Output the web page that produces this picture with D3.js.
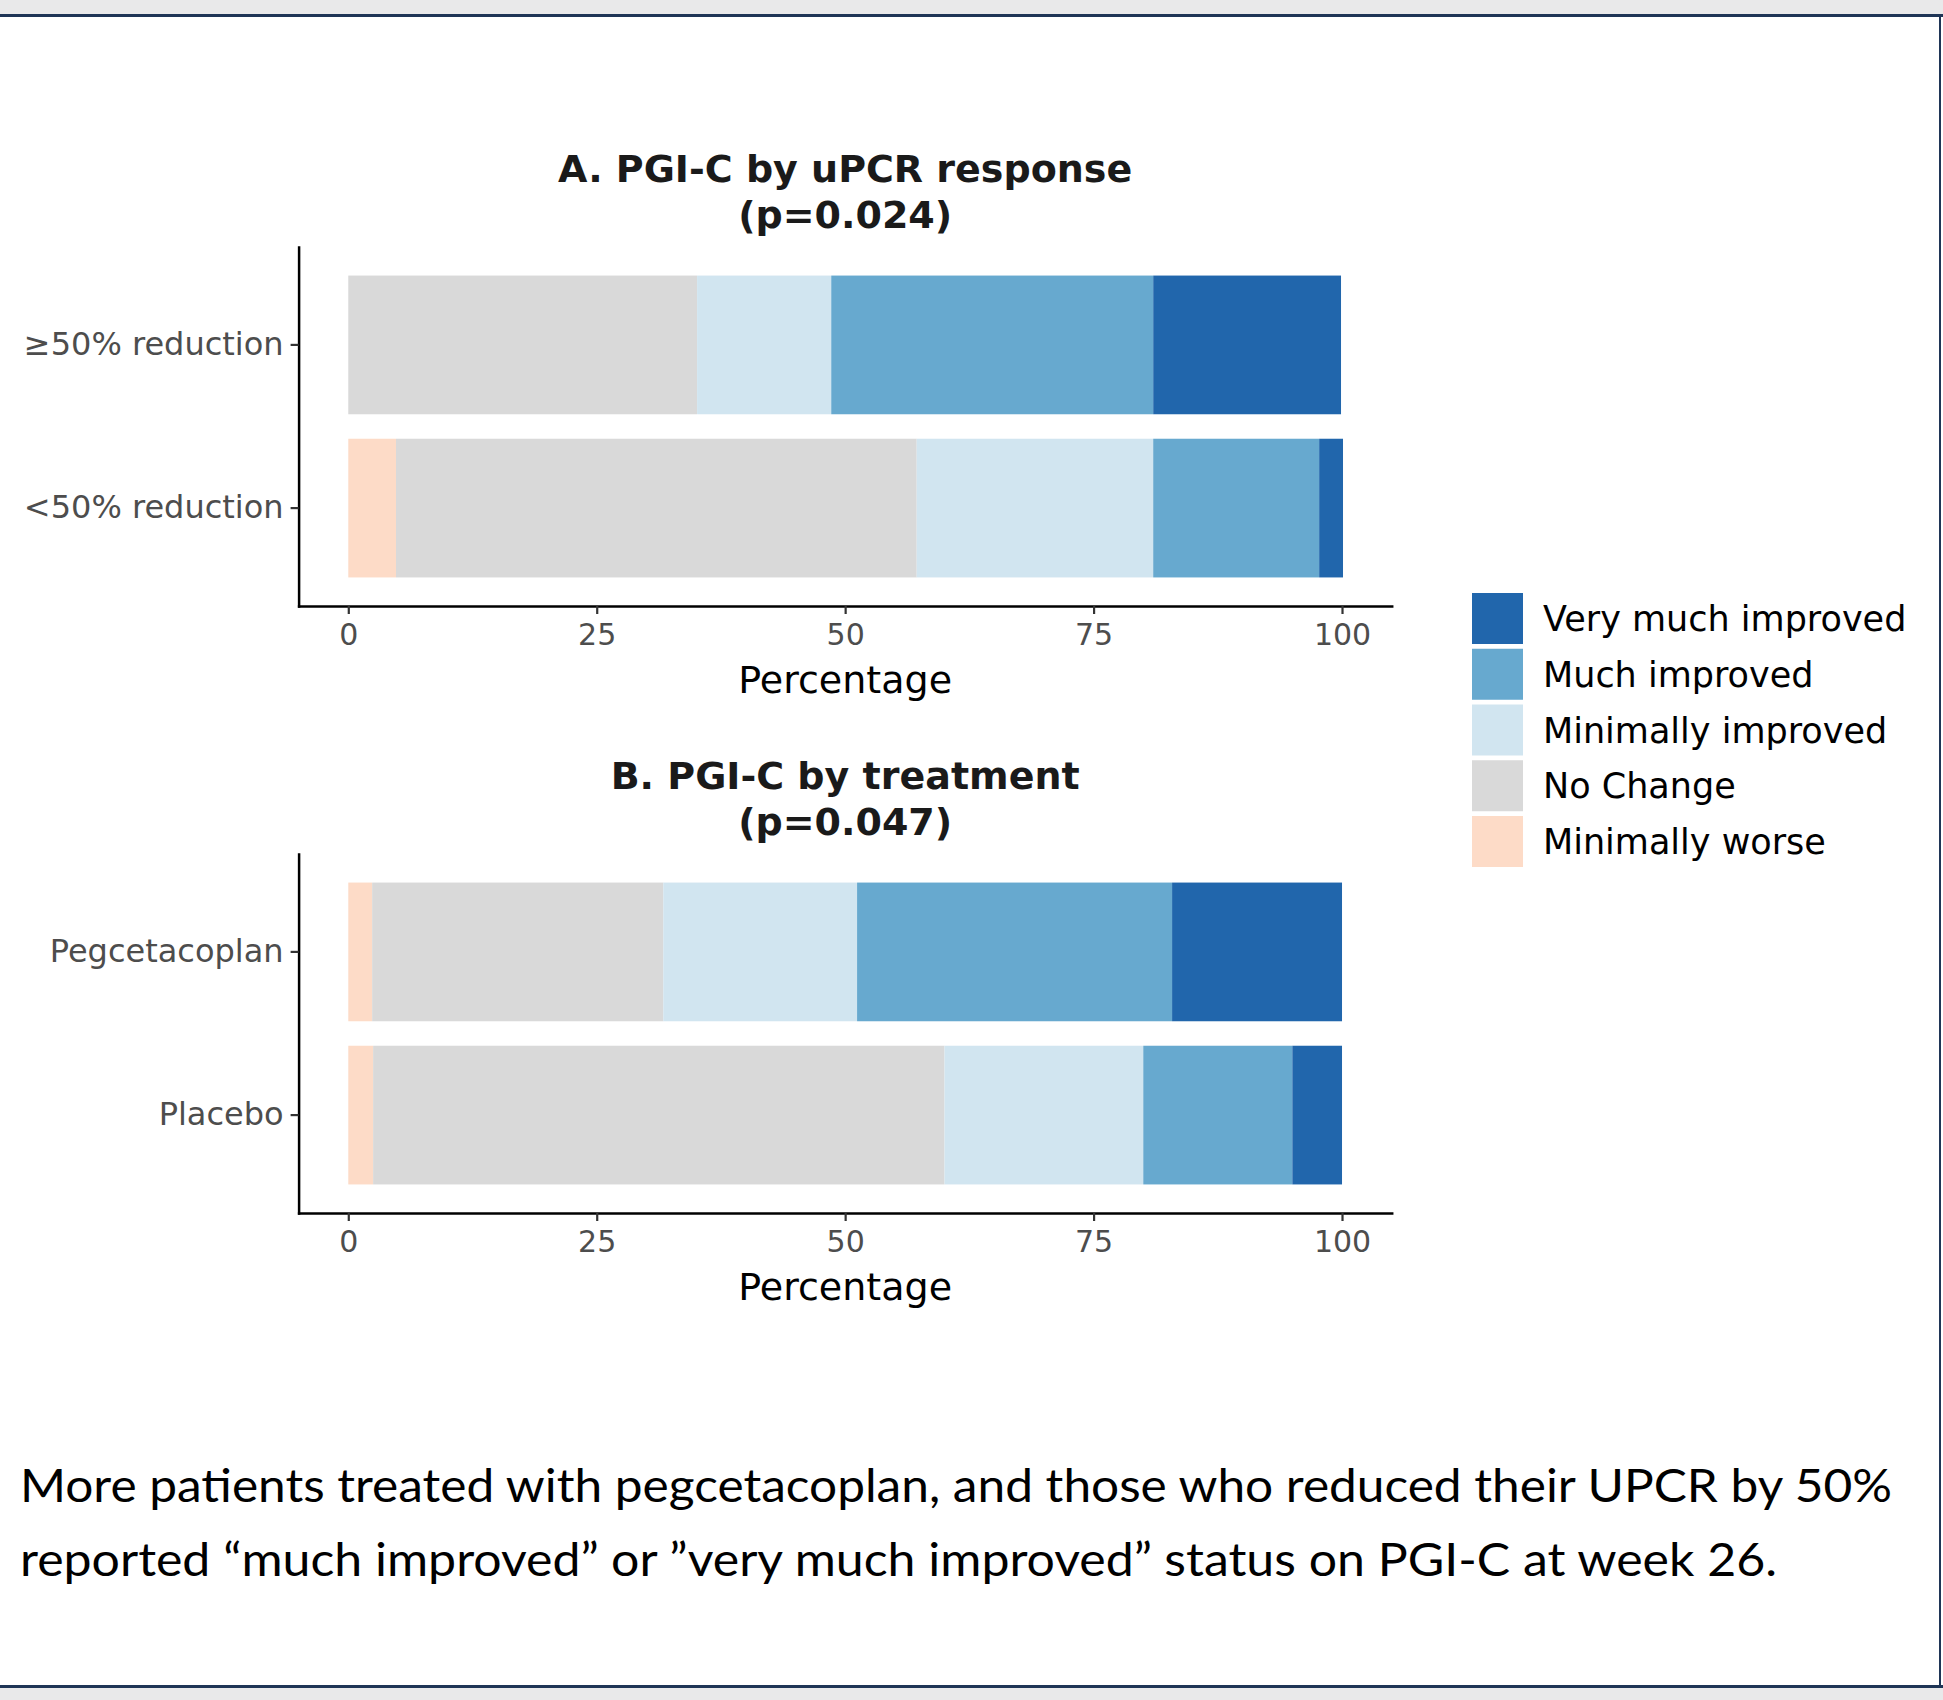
<!doctype html>
<meta charset="utf-8">
<title>PGI-C stacked bars</title>
<script src="https://cdn.jsdelivr.net/npm/d3@7"></script>
<style>
body { margin: 0; background: #fff; }
svg { font-family: "DejaVu Sans", sans-serif; }
.tick text { fill: #4d4d4d; }
</style>
<body>
<svg id="chart" width="1943" height="1700"></svg>
<script>
// response categories, stacked left to right
var categories = ["Minimally worse", "No Change", "Minimally improved", "Much improved", "Very much improved"];
var colors = ["#fddbc7", "#d9d9d9", "#d1e5f0", "#67a9cf", "#2166ac"];

// panel A: by uPCR response (percent of patients)
var groupsA = ["≥50% reduction", "<50% reduction"];
var reduced50 = [0, 35.1, 13.5, 32.4, 18.9];
var notReduced50 = [4.8, 52.4, 23.8, 16.7, 2.4];

// panel B: by treatment
var groupsB = ["Pegcetacoplan", "Placebo"];
var pegcetacoplan = [2.4, 29.3, 19.5, 31.7, 17.1];
var placebo = [2.5, 57.5, 20.0, 15.0, 5.0];

var xTicks = [0, 25, 50, 75, 100];
var titlesA = ["A. PGI-C by uPCR response", "(p=0.024)"];
var titlesB = ["B. PGI-C by treatment", "(p=0.047)"];
var caption = [
  "More patients treated with pegcetacoplan, and those who reduced their UPCR by 50%",
  "reported \u201cmuch improved\u201d or \u201dvery much improved\u201d status on PGI-C at week 26."
];

var svg = d3.select("#chart");

// page frame
svg.append("rect").attr("x", 0).attr("y", 0).attr("width", 1943).attr("height", 14).attr("fill", "#e9e9ea");
svg.append("rect").attr("x", 0).attr("y", 1688).attr("width", 1943).attr("height", 12).attr("fill", "#e9e9ea");
svg.append("rect").attr("x", 0).attr("y", 14).attr("width", 1943).attr("height", 3).attr("fill", "#1f3556");
svg.append("rect").attr("x", 0).attr("y", 1685).attr("width", 1943).attr("height", 3).attr("fill", "#1f3556");
svg.append("rect").attr("x", 1939).attr("y", 14).attr("width", 2).attr("height", 1674).attr("fill", "#1f3556");

var x = d3.scaleLinear().domain([-5, 105]).range([298.6, 1391.7]);

function panel(top, bottom, groups, rows, titles) {
  var g = svg.append("g");
  var y = d3.scaleBand().domain(groups).range([top, bottom])
    .paddingInner(0.15).paddingOuter(0.175);

  rows.forEach(function(vals, i) {
    var cum = d3.cumsum(vals);
    var segs = vals.map(function(v, j) {
      return {start: cum[j] - v, end: cum[j], color: colors[j]};
    });
    g.selectAll(null).data(segs).enter().append("rect")
      .attr("x", function(d) { return x(d.start); })
      .attr("width", function(d) { return Math.max(0, x(d.end) - x(d.start)); })
      .attr("y", y(groups[i]))
      .attr("height", y.bandwidth())
      .attr("fill", function(d) { return d.color; });
  });

  var xa = g.append("g").attr("transform", "translate(0," + bottom + ")")
    .call(d3.axisBottom(x).tickValues(xTicks).tickSize(8).tickSizeOuter(0).tickPadding(10));
  xa.selectAll(".tick text").attr("font-size", 30).attr("font-family", "DejaVu Sans");

  var ya = g.append("g").attr("transform", "translate(" + x.range()[0] + ",0)")
    .call(d3.axisLeft(y).tickSize(8).tickSizeOuter(0).tickPadding(7));
  ya.selectAll(".tick text").attr("font-size", 32).attr("font-family", "DejaVu Sans");

  [xa, ya].forEach(function(a) {
    a.select(".domain").attr("stroke", "#000").attr("stroke-width", 2.5).attr("stroke-linecap", "square");
    a.selectAll(".tick line").attr("stroke", "#333").attr("stroke-width", 2.2);
  });

  var cx = (x.range()[0] + x.range()[1]) / 2;
  g.append("text").attr("x", cx).attr("y", bottom + 87)
    .attr("text-anchor", "middle").attr("font-size", 38).attr("fill", "#000")
    .text("Percentage");

  g.selectAll(null).data(titles).enter().append("text")
    .attr("x", cx)
    .attr("y", function(d, i) { return top - 65 + i * 46; })
    .attr("text-anchor", "middle").attr("font-size", 38).attr("font-weight", 700)
    .attr("fill", "#1a1a1a")
    .text(function(d) { return d; });
}

panel(247, 606, groupsA, [reduced50, notReduced50], titlesA);
panel(854, 1213, groupsB, [pegcetacoplan, placebo], titlesB);

// legend, reversed so the strongest improvement is on top
var legendItems = categories.map(function(c, i) { return {name: c, color: colors[i]}; }).reverse();
var leg = svg.append("g").attr("transform", "translate(1472,593)");
var lg = leg.selectAll("g").data(legendItems).enter().append("g")
  .attr("transform", function(d, i) { return "translate(0," + (i * 55.75) + ")"; });
lg.append("rect").attr("width", 51).attr("height", 51).attr("fill", function(d) { return d.color; });
lg.append("text").attr("x", 71).attr("y", 38).attr("font-size", 35).attr("fill", "#000")
  .text(function(d) { return d.name; });

// caption below the chart
var capWidths = [1872, 1757];
svg.selectAll(".cap").data(caption).enter().append("text")
  .attr("class", "cap")
  .attr("x", 20)
  .attr("y", function(d, i) { return 1502 + i * 74; })
  .attr("font-family", "Lato, 'Open Sans', sans-serif")
  .attr("font-size", 46)
  .attr("fill", "#000")
  .attr("textLength", function(d, i) { return capWidths[i]; })
  .attr("lengthAdjust", "spacingAndGlyphs")
  .text(function(d) { return d; });
</script>
</body>
